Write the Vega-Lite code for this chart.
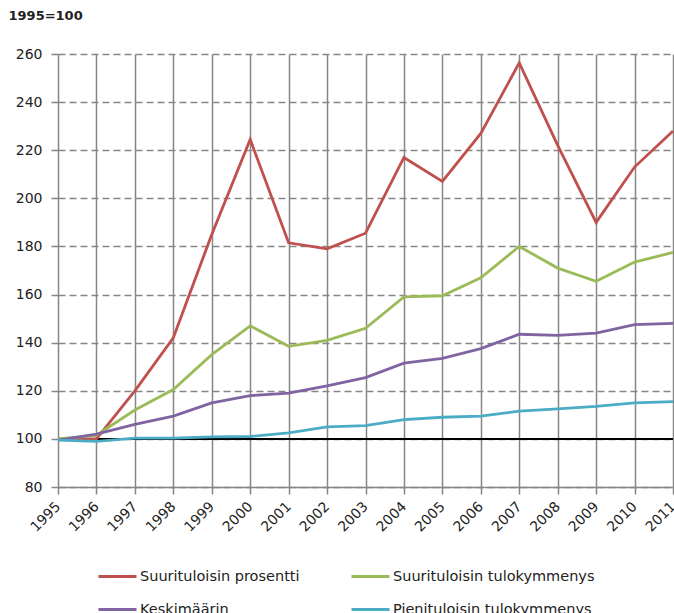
{
  "$schema": "https://vega.github.io/schema/vega-lite/v6.json",
  "width": 615,
  "height": 433,
  "autosize": {"type": "none"},
  "padding": {"left": 58, "top": 54, "right": 1, "bottom": 126},
  "background": "white",
  "config": {
    "font": "DejaVu Sans",
    "view": {"stroke": null},
    "axis": {"labelColor": "#222222", "labelFontSize": 14, "labelFont": "DejaVu Sans"}
  },
  "data": {
    "values": [
      {"year": "1995", "series": "Suurituloisin prosentti", "value": 100},
      {"year": "1996", "series": "Suurituloisin prosentti", "value": 100},
      {"year": "1997", "series": "Suurituloisin prosentti", "value": 120},
      {"year": "1998", "series": "Suurituloisin prosentti", "value": 142},
      {"year": "1999", "series": "Suurituloisin prosentti", "value": 185},
      {"year": "2000", "series": "Suurituloisin prosentti", "value": 224.5},
      {"year": "2001", "series": "Suurituloisin prosentti", "value": 181.5},
      {"year": "2002", "series": "Suurituloisin prosentti", "value": 179},
      {"year": "2003", "series": "Suurituloisin prosentti", "value": 185.5},
      {"year": "2004", "series": "Suurituloisin prosentti", "value": 217},
      {"year": "2005", "series": "Suurituloisin prosentti", "value": 207},
      {"year": "2006", "series": "Suurituloisin prosentti", "value": 227},
      {"year": "2007", "series": "Suurituloisin prosentti", "value": 256.3},
      {"year": "2008", "series": "Suurituloisin prosentti", "value": 222},
      {"year": "2009", "series": "Suurituloisin prosentti", "value": 190},
      {"year": "2010", "series": "Suurituloisin prosentti", "value": 213},
      {"year": "2011", "series": "Suurituloisin prosentti", "value": 228},
      {"year": "1995", "series": "Suurituloisin tulokymmenys", "value": 100},
      {"year": "1996", "series": "Suurituloisin tulokymmenys", "value": 101.5},
      {"year": "1997", "series": "Suurituloisin tulokymmenys", "value": 112},
      {"year": "1998", "series": "Suurituloisin tulokymmenys", "value": 120.5},
      {"year": "1999", "series": "Suurituloisin tulokymmenys", "value": 135},
      {"year": "2000", "series": "Suurituloisin tulokymmenys", "value": 147},
      {"year": "2001", "series": "Suurituloisin tulokymmenys", "value": 138.5},
      {"year": "2002", "series": "Suurituloisin tulokymmenys", "value": 141},
      {"year": "2003", "series": "Suurituloisin tulokymmenys", "value": 146},
      {"year": "2004", "series": "Suurituloisin tulokymmenys", "value": 159},
      {"year": "2005", "series": "Suurituloisin tulokymmenys", "value": 159.5},
      {"year": "2006", "series": "Suurituloisin tulokymmenys", "value": 167},
      {"year": "2007", "series": "Suurituloisin tulokymmenys", "value": 180},
      {"year": "2008", "series": "Suurituloisin tulokymmenys", "value": 171},
      {"year": "2009", "series": "Suurituloisin tulokymmenys", "value": 165.5},
      {"year": "2010", "series": "Suurituloisin tulokymmenys", "value": 173.5},
      {"year": "2011", "series": "Suurituloisin tulokymmenys", "value": 177.5},
      {"year": "1995", "series": "Keskimäärin", "value": 99.5},
      {"year": "1996", "series": "Keskimäärin", "value": 102},
      {"year": "1997", "series": "Keskimäärin", "value": 106},
      {"year": "1998", "series": "Keskimäärin", "value": 109.5},
      {"year": "1999", "series": "Keskimäärin", "value": 115},
      {"year": "2000", "series": "Keskimäärin", "value": 118},
      {"year": "2001", "series": "Keskimäärin", "value": 119},
      {"year": "2002", "series": "Keskimäärin", "value": 122},
      {"year": "2003", "series": "Keskimäärin", "value": 125.5},
      {"year": "2004", "series": "Keskimäärin", "value": 131.5},
      {"year": "2005", "series": "Keskimäärin", "value": 133.5},
      {"year": "2006", "series": "Keskimäärin", "value": 137.5},
      {"year": "2007", "series": "Keskimäärin", "value": 143.5},
      {"year": "2008", "series": "Keskimäärin", "value": 143},
      {"year": "2009", "series": "Keskimäärin", "value": 144},
      {"year": "2010", "series": "Keskimäärin", "value": 147.5},
      {"year": "2011", "series": "Keskimäärin", "value": 148},
      {"year": "1995", "series": "Pienituloisin tulokymmenys", "value": 99.5},
      {"year": "1996", "series": "Pienituloisin tulokymmenys", "value": 99},
      {"year": "1997", "series": "Pienituloisin tulokymmenys", "value": 100.3},
      {"year": "1998", "series": "Pienituloisin tulokymmenys", "value": 100.3},
      {"year": "1999", "series": "Pienituloisin tulokymmenys", "value": 100.8},
      {"year": "2000", "series": "Pienituloisin tulokymmenys", "value": 101},
      {"year": "2001", "series": "Pienituloisin tulokymmenys", "value": 102.5},
      {"year": "2002", "series": "Pienituloisin tulokymmenys", "value": 105},
      {"year": "2003", "series": "Pienituloisin tulokymmenys", "value": 105.5},
      {"year": "2004", "series": "Pienituloisin tulokymmenys", "value": 108},
      {"year": "2005", "series": "Pienituloisin tulokymmenys", "value": 109},
      {"year": "2006", "series": "Pienituloisin tulokymmenys", "value": 109.5},
      {"year": "2007", "series": "Pienituloisin tulokymmenys", "value": 111.5},
      {"year": "2008", "series": "Pienituloisin tulokymmenys", "value": 112.5},
      {"year": "2009", "series": "Pienituloisin tulokymmenys", "value": 113.5},
      {"year": "2010", "series": "Pienituloisin tulokymmenys", "value": 115},
      {"year": "2011", "series": "Pienituloisin tulokymmenys", "value": 115.5}
    ]
  },
  "encoding": {
    "x": {
      "field": "year", "type": "ordinal",
      "scale": {"type": "point", "padding": 0},
      "axis": {
        "title": null, "labelAngle": -45, "labelAlign": "right", "labelBaseline": "middle",
        "labelPadding": 10, "labelFontSize": 14, "tickSize": 7, "tickColor": "#868686", "domainColor": "#868686", "domainWidth": 1.5,
        "tickWidth": 1.5,
        "grid": true, "gridColor": "#868686", "gridWidth": 1.5, "gridOpacity": 1
      }
    }
  },
  "layer": [
    {
      "mark": {"type": "rule", "color": "black", "strokeWidth": 1.5},
      "encoding": {"y": {"datum": 100, "type": "quantitative"}, "x": null}
    },
    {
      "mark": {"type": "line", "strokeWidth": 2.8},
      "encoding": {
        "y": {
          "field": "value", "type": "quantitative",
          "scale": {"domain": [80, 260], "nice": false, "zero": false},
          "axis": {
            "title": "1995=100", "titleAngle": 0, "titleX": -50, "titleY": -39, "titleAlign": "left",
            "titleBaseline": "middle", "titleFontSize": 13, "titleFontWeight": "bold", "titleColor": "#222222",
            "titleFont": "DejaVu Sans",
            "values": [80, 100, 120, 140, 160, 180, 200, 220, 240, 260],
            "tickSize": 7, "tickColor": "#868686", "tickWidth": 1.5, "labelPadding": 9,
            "domain": false,
            "grid": true, "gridColor": "#868686", "gridDash": [7, 4], "gridWidth": 1.5, "gridOpacity": 1
          }
        },
        "color": {
          "field": "series", "type": "nominal",
          "scale": {
            "domain": ["Suurituloisin prosentti", "Suurituloisin tulokymmenys", "Keskimäärin", "Pienituloisin tulokymmenys"],
            "range": ["#C0504D", "#9BBB59", "#8064A2", "#4BACC6"]
          },
          "legend": {
            "title": null, "orient": "none", "legendX": 39, "legendY": 502, "direction": "horizontal", "columns": 2,
            "symbolType": "stroke", "symbolSize": 1444, "symbolStrokeWidth": 3,
            "labelFontSize": 14.5, "labelFont": "DejaVu Sans", "labelColor": "#222222", "labelOffset": 2,
            "columnPadding": 45, "rowPadding": 6, "labelLimit": 300, "gridAlign": "each"
          }
        }
      }
    }
  ]
}
